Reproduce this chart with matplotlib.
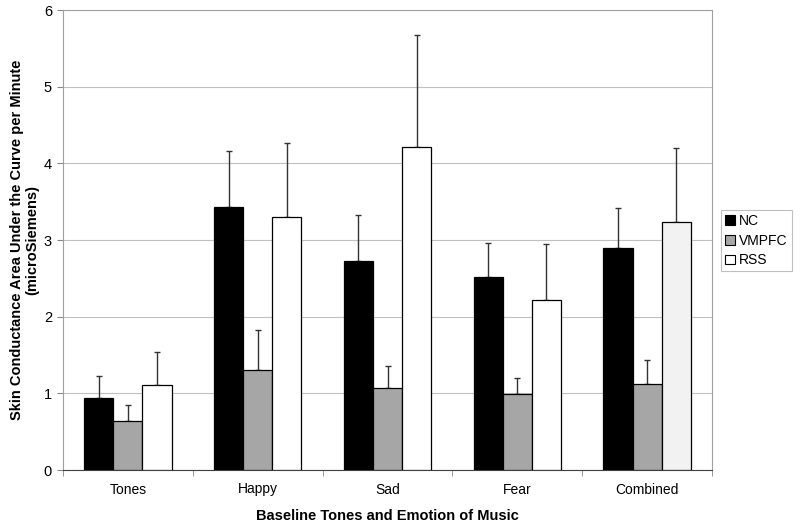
import matplotlib
matplotlib.use("Agg")
import matplotlib.pyplot as plt
import numpy as np
from matplotlib.patches import Patch

plt.rcParams['font.family'] = ['Liberation Sans', 'DejaVu Sans']

categories = ["Tones", "Happy", "Sad", "Fear", "Combined"]
series = ["NC", "VMPFC", "RSS"]
nc_mean = [0.94, 3.43, 2.73, 2.52, 2.90]
nc_err = [0.29, 0.73, 0.59, 0.44, 0.52]
vm_mean = [0.64, 1.31, 1.07, 0.99, 1.12]
vm_err = [0.21, 0.52, 0.29, 0.21, 0.32]
rss_mean = [1.11, 3.30, 4.21, 2.22, 3.24]
rss_err = [0.43, 0.96, 1.46, 0.73, 0.96]

means = [nc_mean, vm_mean, rss_mean]
errs = [nc_err, vm_err, rss_err]
colors = ["#000000", "#a6a6a6", "#ffffff"]

fig = plt.figure(figsize=(8, 5.24), dpi=100)
ax = fig.add_axes([63/800, 1-470/524, (712-63)/800, 460/524])

x = np.arange(len(categories))
w = 0.224
for i, (m, e, c) in enumerate(zip(means, errs, colors)):
    pos = x + (i - 1) * w
    fcs = [c] * len(categories)
    if i == 2:
        fcs[-1] = "#f2f2f2"
    ax.bar(pos, m, width=w, color=fcs, edgecolor="black", linewidth=0.9, zorder=3)
    ax.errorbar(pos, m, yerr=[np.zeros(len(m)), e], fmt="none", ecolor="#333333",
                elinewidth=1.0, capsize=2.3, capthick=1.0, zorder=2)

ax.set_xlim(-0.5, len(categories) - 0.5)
ax.set_ylim(0, 6)
ax.set_yticks(range(0, 7))
ax.yaxis.grid(True, color="#c0c0c0", linewidth=0.8, zorder=0)
ax.set_axisbelow(True)
ax.set_xticks(x)
ax.set_xticklabels(categories)
ax.set_xticks(np.arange(-0.5, len(categories)), minor=True)
ax.tick_params(axis="x", which="major", length=0, pad=9, labelsize=10)
ax.tick_params(axis="x", which="minor", length=4, color="#888888")
ax.tick_params(axis="y", length=4, color="#888888", labelsize=10.5, pad=4)
for s in ["left", "right", "top"]:
    ax.spines[s].set_color("#a0a0a0")
ax.spines["bottom"].set_color("#404040")

ax.set_xlabel("Baseline Tones and Emotion of Music", fontweight="bold", fontsize=10.5, labelpad=9)
ax.set_ylabel("Skin Conductance Area Under the Curve per Minute\n(microSiemens)",
              fontweight="bold", fontsize=10.5, labelpad=3, linespacing=1.15)

handles = [Patch(facecolor=c, edgecolor="black", linewidth=0.8) for c in colors]
leg = fig.legend(handles, series, loc="upper left", bbox_to_anchor=(721/800, 1-210/524),
                 frameon=True, fancybox=False, edgecolor="#b0b0b0", fontsize=10,
                 handlelength=0.7, handleheight=0.7, handletextpad=0.3,
                 borderpad=0.3, labelspacing=0.4, borderaxespad=0)
leg.get_frame().set_linewidth(0.8)

fig.savefig("out.png", dpi=100)
